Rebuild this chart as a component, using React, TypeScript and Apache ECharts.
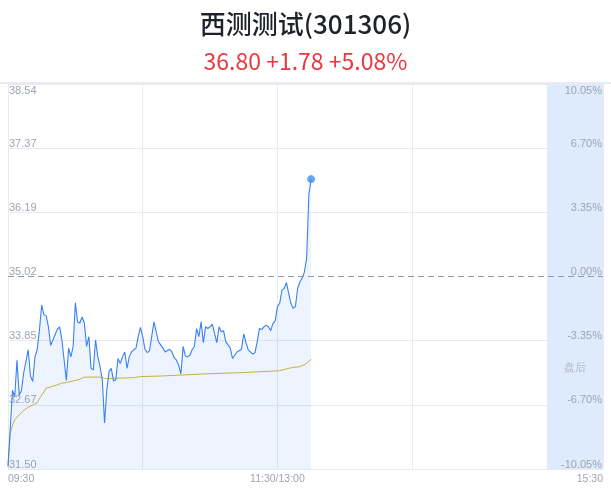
import React, { useEffect, useRef } from 'react';
import * as echarts from 'echarts';

const stockName = '西测测试(301306)';
const quoteText = '36.80 +1.78 +5.08%';
const prevClose = 35.02;
const priceTicks = [31.5, 32.67, 33.85, 35.02, 36.19, 37.37, 38.54];
const pctTicks = [-10.05, -6.7, -3.35, 0, 3.35, 6.7, 10.05];
const timeLabels: Record<number, string> = { 0: '09:30', 120: '11:30/13:00', 265: '15:30' };
const sessionEnd = 240; // 15:00
const afterHoursEnd = 265; // 15:30 (after-hours band)
const afterHoursLabel = '盘后';

// minute offsets from 09:30 (trading minutes) and prices
const priceMinutes = [
  0, 2, 3, 4, 5, 6, 7, 9, 10, 11, 12, 13, 14, 15, 16, 17, 18, 19, 20, 22, 23, 24, 26, 27, 28, 29,
  30, 31, 32, 33, 34, 35, 36, 37, 38, 39, 40, 41, 42, 43, 44, 45, 46, 47, 48, 49, 50, 51, 52, 53,
  54, 55, 56, 57, 58, 59, 60, 61, 62, 63, 64, 65, 66, 67, 68, 69, 70, 72, 73, 74, 75, 76, 77, 78,
  79, 80, 81, 82, 83, 84, 85, 86, 87, 88, 89, 90, 91, 92, 93, 94, 95, 96, 97, 99, 100, 101, 102,
  104, 105, 106, 107, 109, 110, 111, 112, 113, 114, 115, 116, 117, 118, 119, 120, 121, 122, 123,
  124, 125, 126, 127, 128, 129, 130, 131, 132, 133, 134, 135,
];
const priceValues = [
  31.55, 32.94, 32.82, 33.49, 32.85, 32.94, 33.26, 33.68, 33.2, 33.1, 33.55, 33.68, 34.04, 34.5,
  34.32, 34.3, 34.1, 33.76, 33.86, 34.06, 34.1, 33.86, 33.12, 33.71, 33.55, 33.74, 34.54, 34.19,
  34.17, 34.28, 34.17, 33.74, 33.92, 33.34, 33.31, 33.86, 33.55, 33.37, 33.13, 32.34, 32.94, 33.28,
  33.34, 33.11, 33.13, 33.52, 33.43, 33.55, 33.64, 33.34, 33.55, 33.64, 33.68, 33.71, 33.92, 34.09,
  33.92, 33.69, 33.63, 33.66, 33.92, 34.19, 34.01, 33.83, 33.77, 33.71, 33.64, 33.69, 33.64, 33.54,
  33.49, 33.4, 33.24, 33.74, 33.57, 33.55, 33.58, 33.68, 33.74, 34.07, 33.92, 34.19, 33.81, 34.1,
  34.07, 34.1, 34.15, 33.98, 33.81, 34.1, 34.01, 34.03, 33.83, 33.71, 33.52, 33.58, 33.64, 33.69,
  33.97, 33.81, 33.68, 33.6, 33.63, 33.83, 34.07, 34.05, 34.1, 34.13, 34.1, 34.03, 34.16, 34.21,
  34.47, 34.53, 34.77, 34.8, 34.91, 34.71, 34.53, 34.44, 34.47, 34.8, 34.92, 34.99, 35.1, 35.35,
  36.52, 36.8,
];
const avgMinutes = [
  0, 1, 2, 3, 5, 6, 7, 9, 11, 13, 14, 16, 17, 19, 22, 24, 26, 28, 31, 32, 34, 41, 44, 48, 56, 59,
  68, 73, 88, 103, 118, 121, 124, 127, 130, 133, 135,
];
const avgValues = [
  31.55, 32.15, 32.3, 32.4, 32.49, 32.53, 32.57, 32.63, 32.67, 32.71, 32.79, 32.91, 32.98, 33.0,
  33.04, 33.07, 33.08, 33.1, 33.13, 33.14, 33.18, 33.18, 33.15, 33.16, 33.17, 33.19, 33.2, 33.21,
  33.24, 33.26, 33.29, 33.3, 33.33, 33.36, 33.37, 33.43, 33.51,
];

const LABEL_COLOR = '#9ea4b1';
const GRID_COLOR = '#e8eaf0';
const LABEL_FONT = 'Liberation Sans';

export default function App() {
  const ref = useRef<HTMLDivElement>(null);
  useEffect(() => {
    if (!ref.current) return;
    const chart = echarts.init(ref.current, undefined, { renderer: 'svg' });
    const pMin = priceTicks[0];
    const pMax = priceTicks[priceTicks.length - 1];
    const pInterval = (pMax - pMin) / (priceTicks.length - 1);
    const qMin = pctTicks[0];
    const qMax = pctTicks[pctTicks.length - 1];
    const qInterval = (qMax - qMin) / (pctTicks.length - 1);
    const priceData = priceMinutes.map((m, i) => [m, priceValues[i]]);
    const avgData = avgMinutes.map((m, i) => [m, avgValues[i]]);
    const last = priceData[priceData.length - 1];
    const splitColors = priceTicks.map((t) => (Math.abs(t - prevClose) < 1e-6 ? 'rgba(0,0,0,0)' : GRID_COLOR));

    chart.setOption({
      animation: false,
      title: [
        {
          text: stockName,
          left: 'center',
          top: 4,
          textStyle: { fontSize: 26, fontWeight: 500, color: '#1f2329', fontFamily: 'Noto Sans CJK SC' },
        },
        {
          text: quoteText,
          left: 'center',
          top: 43,
          textStyle: { fontSize: 23, fontWeight: 'normal', color: '#e8393e', fontFamily: 'Noto Sans CJK SC' },
        },
      ],
      graphic: [
        { type: 'rect', shape: { x: 0, y: 82, width: 611, height: 2 }, style: { fill: '#e9ebef' }, silent: true },
      ],
      grid: { left: 8, right: 8, top: 84, bottom: 23, containLabel: false },
      xAxis: {
        type: 'value',
        min: 0,
        max: afterHoursEnd,
        interval: 60,
        axisLine: { show: false },
        axisTick: { show: false },
        splitLine: { show: true, lineStyle: { color: GRID_COLOR, width: 1 } },
        axisLabel: {
          show: true,
          showMinLabel: true,
          showMaxLabel: true,
          margin: 3,
          fontSize: 10.5,
          fontFamily: LABEL_FONT,
          color: LABEL_COLOR,
          alignMinLabel: 'left',
          alignMaxLabel: 'right',
          formatter: (v: number) => timeLabels[Math.round(v)] ?? '',
        },
      },
      yAxis: [
        {
          type: 'value',
          min: pMin,
          max: pMax,
          interval: pInterval,
          position: 'left',
          axisLine: { show: false },
          axisTick: { show: false },
          splitLine: { show: true, lineStyle: { color: splitColors, width: 1 } },
          axisLabel: {
            inside: true,
            margin: 1,
            fontSize: 11,
            fontFamily: LABEL_FONT,
            color: LABEL_COLOR,
            verticalAlign: 'bottom',
            verticalAlignMaxLabel: 'top',
            formatter: (v: number) => (v < pMax && pMax - v < 0.005 ? '' : v.toFixed(2)),
          },
        },
        {
          type: 'value',
          min: qMin,
          max: qMax,
          interval: qInterval,
          position: 'right',
          z: 10,
          axisLine: { show: false },
          axisTick: { show: false },
          splitLine: { show: false },
          axisLabel: {
            inside: true,
            margin: 1,
            fontSize: 11,
            fontFamily: LABEL_FONT,
            color: LABEL_COLOR,
            verticalAlign: 'bottom',
            verticalAlignMaxLabel: 'top',
            formatter: (v: number) => (v < qMax && qMax - v < 0.005 ? '' : v.toFixed(2) + '%'),
          },
        },
      ],
      series: [
        {
          type: 'line',
          name: 'price',
          data: priceData,
          showSymbol: false,
          symbol: 'none',
          lineStyle: { color: '#3a80f2', width: 1.1 },
          areaStyle: { color: 'rgba(60,130,240,0.13)', origin: 'start' },
          z: 3,
          markLine: {
            silent: true,
            symbol: ['none', 'none'],
            label: { show: false },
            lineStyle: { color: '#8d99b2', type: [6, 4], width: 1 },
            data: [{ yAxis: prevClose }],
          },
          markArea: {
            silent: true,
            itemStyle: { color: '#deebfd' },
            label: {
              show: true,
              position: 'inside',
              offset: [0, 90],
              color: '#b3b8c3',
              fontSize: 11,
            },
            data: [[{ xAxis: sessionEnd, name: afterHoursLabel }, { xAxis: afterHoursEnd }]],
          },
        },
        {
          type: 'line',
          name: 'avg',
          data: avgData,
          showSymbol: false,
          symbol: 'none',
          lineStyle: { color: '#d5b42c', width: 1 },
          z: 2,
        },
        {
          type: 'scatter',
          data: [last],
          symbolSize: 8,
          itemStyle: { color: '#3d8ef5' },
          z: 4,
        },
      ],
    });
    return () => chart.dispose();
  }, []);
  return <div ref={ref} style={{ position: 'fixed', left: 0, top: 0, width: 611, height: 492 }} />;
}
